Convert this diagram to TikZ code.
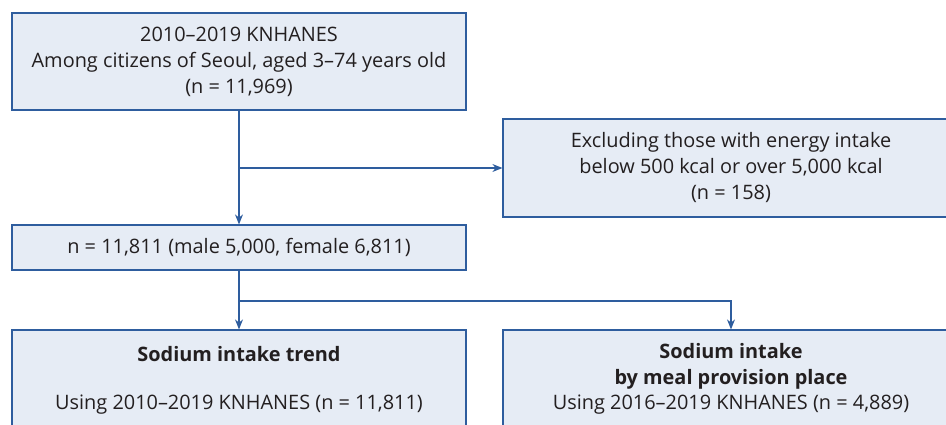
\documentclass[tikz,border=0pt]{standalone}
\usepackage{fontspec}
\setmainfont{Open Sans}
\usetikzlibrary{arrows.meta}
\definecolor{boxfill}{HTML}{E6ECF5}
\definecolor{boxline}{HTML}{2E5D9E}
\definecolor{txt}{HTML}{231F20}
\tikzset{
  box/.style={draw=boxline, fill=boxfill, line width=1.2pt, inner sep=0pt, align=center,
    text=txt, font=\fontsize{19.9}{26}\selectfont},
  label/.style={inner sep=0pt, align=center, text=txt, font=\fontsize{19.9}{26}\selectfont},
  conn/.style={draw=boxline, line width=1.3pt},
  arr/.style={conn, -{Stealth[length=10pt,width=8pt]}}
}
\begin{document}
\begin{tikzpicture}[x=1pt,y=-1pt]
\useasboundingbox (0,0) rectangle (946,425);
\clip (0,0) rectangle (946,425);
\node[box, minimum width=454pt, minimum height=97pt] (top) at (239,61.5)
  {2010–2019 KNHANES\\Among citizens of Seoul, aged 3–74 years old\\(n = 11,969)};
\node[box, minimum width=456pt, minimum height=98pt] (excl) at (731,168)
  {Excluding those with energy intake\\below 500 kcal or over 5,000 kcal\\(n = 158)};
\node[box, minimum width=454pt, minimum height=45pt] (nbox) at (239,247.5)
  {n = 11,811 (male 5,000, female 6,811)};
\node[box, minimum width=454pt, minimum height=130pt] (bl) at (239,395) {};
\node[box, minimum width=456pt, minimum height=130pt] (br) at (731,395) {};
\node[label, font=\fontsize{19.9}{26}\selectfont\bfseries] (blt) at (239,354) {Sodium intake trend};
\node[label] (blu) at (239,405) {Using 2010–2019 KNHANES (n = 11,811)};
\node[label, font=\fontsize{19.9}{26}\selectfont\bfseries] (brt) at (731,366.5) {Sodium intake\\by meal provision place};
\node[label] (bru) at (731,405) {Using 2016–2019 KNHANES (n = 4,889)};
\coordinate (b1) at (239,168);
\coordinate (b2) at (239,301);
\draw[arr] (top.south) -- (nbox.north);
\draw[arr] (b1) -- (excl.west);
\draw[arr] (nbox.south) -- (bl.north);
\draw[arr] (b2) -| (br.north);
\end{tikzpicture}
\end{document}
